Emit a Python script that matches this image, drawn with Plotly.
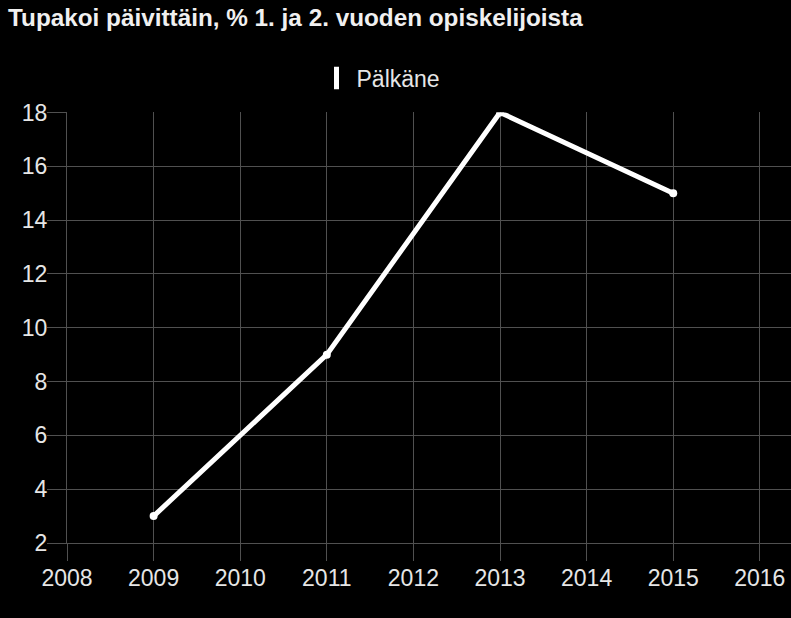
import plotly.graph_objects as go

# Pälkäne, daily smokers among 1st and 2nd year students (%)
years = [2009, 2011, 2013, 2015]
values = [3, 9, 18, 15]
series_name = "Pälkäne"

x_ticks = list(range(2008, 2017))
y_ticks = list(range(2, 19, 2))

grid = "#505050"
text_col = "#e6e6e6"

fig = go.Figure()

fig.add_trace(go.Scatter(
    x=years,
    y=values,
    mode="lines+markers",
    line=dict(color="white", width=5),
    marker=dict(color="white", size=8),
    showlegend=False,
    hoverinfo="x+y",
))

# legend entry drawn as a vertical bar, like the original legend box
fig.add_trace(go.Scatter(
    x=[None],
    y=[None],
    mode="markers",
    name=series_name,
    marker=dict(symbol="line-ns", size=16, color="white",
                line=dict(color="white", width=9)),
))

fig.update_layout(
    width=791,
    height=618,
    paper_bgcolor="black",
    plot_bgcolor="black",
    font=dict(family="Liberation Sans, Arial, sans-serif", size=23, color=text_col),
    margin=dict(l=67, r=0, t=110, b=75),
    title=dict(
        text="<b>Tupakoi päivittäin, % 1. ja 2. vuoden opiskelijoista</b>",
        font=dict(size=24.3, color="#f0f0f0"),
        x=8 / 791,
        xanchor="left",
        xref="container",
        y=1 - 17 / 618,
        yanchor="middle",
        yref="container",
    ),
    legend=dict(
        orientation="h",
        x=381 / 791,
        xanchor="center",
        xref="container",
        y=1 - 78 / 618,
        yanchor="middle",
        yref="container",
        font=dict(size=23, color=text_col),
        bgcolor="rgba(0,0,0,0)",
    ),
    xaxis=dict(
        range=[2008, 2016.36],
        tickvals=x_ticks,
        showgrid=True,
        gridcolor=grid,
        gridwidth=1,
        showline=True,
        linecolor=grid,
        linewidth=1,
        ticks="outside",
        ticklen=17,
        tickcolor=grid,
        ticklabelstandoff=-3,
        zeroline=False,
    ),
    yaxis=dict(
        range=[2, 18],
        tickvals=y_ticks,
        showgrid=True,
        gridcolor=grid,
        gridwidth=1,
        showline=True,
        linecolor=grid,
        linewidth=1,
        ticks="outside",
        ticklen=19,
        tickcolor=grid,
        ticklabelstandoff=-5,
        zeroline=False,
    ),
)

fig.write_html(
    "out.html",
    config={"displayModeBar": False},
    post_script="document.body.style.margin='0';document.body.style.background='black';",
)
